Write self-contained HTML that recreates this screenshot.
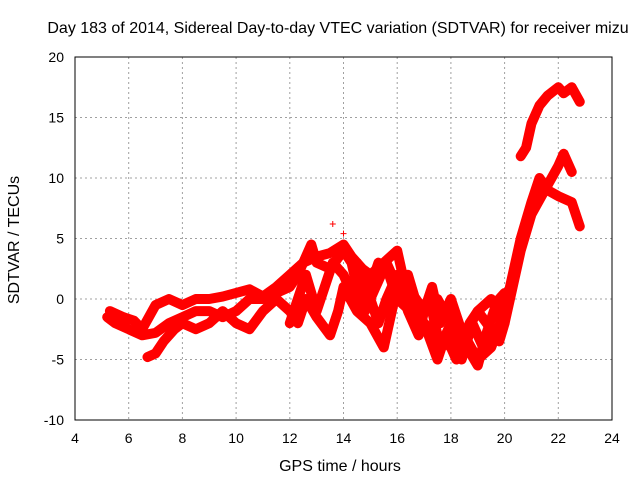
<!DOCTYPE html>
<html><head><meta charset="utf-8"><style>
body{margin:0;background:#fff;font-family:"Liberation Sans",sans-serif}
svg text{font-family:"Liberation Sans",sans-serif;font-size:14px;fill:#000}
</style></head><body>
<svg id="chart" width="640" height="480" viewBox="0 0 640 480">
<text x="338" y="33" text-anchor="middle" style="font-size:16px">Day 183 of 2014, Sidereal Day-to-day VTEC variation (SDTVAR) for receiver mizu</text>
<g id="grid"></g>
<g id="axes"></g>
<g id="series"></g>
<text x="340" y="471" text-anchor="middle" style="font-size:16px">GPS time / hours</text>
<text x="0" y="0" text-anchor="middle" transform="translate(19,240) rotate(-90)" style="font-size:16px">SDTVAR / TECUs</text>
</svg>
<script>
const xTicks=[4,6,8,10,12,14,16,18,20,22,24];
const yTicks=[-10,-5,0,5,10,15,20];
const seriesA=[[5.2,-1.5],[5.5,-2],[6,-2.5],[6.5,-3],[7,-2.8],[7.5,-2],[8,-1.5],[8.5,-1],[9,-1],[9.5,-1.5],[10,-1],[10.5,0],[11,0],[11.5,0.5],[12,1],[12.3,2],[12.6,3.5],[12.8,4.5],[13,3],[13.5,2.5],[14,4],[14.3,3],[14.5,1],[14.8,-1],[15,1],[15.3,3],[15.7,2],[16,0],[16.5,-1],[17,-2],[17.5,-3],[18,-4],[18.5,-3],[19,-5],[19.5,-4],[20,-1],[20.3,2],[20.6,5],[21,8],[21.3,10],[21.6,9],[22,8.5],[22.5,8],[22.8,6]];
const seriesB=[[5.3,-1],[5.8,-1.5],[6.2,-1.8],[6.5,-2.5],[7,-0.5],[7.5,0],[8,-0.5],[8.5,0],[9,0],[9.5,0.2],[10,0.5],[10.5,0.8],[11,0.2],[11.5,1],[12,2],[12.5,3],[13,3.5],[13.5,3.8],[14,4.5],[14.3,3.5],[14.7,2.5],[15,2],[15.5,3],[16,4],[16.3,1],[16.7,0],[17,-1],[17.5,0],[18,-2],[18.3,-4],[18.7,-2],[19,-1],[19.5,-2.5],[19.8,-3.5],[20,-2],[20.3,1],[20.6,4],[21,7],[21.5,9],[22,11],[22.2,12],[22.5,10.5]];
const seriesC=[[6.7,-4.8],[7,-4.5],[7.3,-3.5],[7.7,-2.5],[8,-2],[8.5,-2.5],[9,-2],[9.5,-1],[10,-2],[10.5,-2.5],[11,-1],[11.5,0],[12,-1],[12.3,-2],[12.6,0],[13,-1.5],[13.5,-3],[13.8,-1],[14,1],[14.5,-1],[15,-2],[15.5,-4],[15.8,-1],[16,1],[16.5,-0.5],[17,-2],[17.5,-5],[17.8,-3],[18.2,-5],[18.5,-3],[19,-1],[19.5,0],[19.8,-1.5],[19.9,-2.5]];
const seriesD=[[20.6,11.8],[20.8,12.5],[21,14.5],[21.3,16],[21.6,16.8],[22,17.5],[22.2,17],[22.5,17.5],[22.8,16.3]];
const seriesE=[[14.5,3],[15,0],[15.3,-2],[15.6,0],[16,2],[16.4,-1],[16.8,-3],[17,-1],[17.3,1],[17.6,-2],[18,0],[18.3,-2],[18.6,-4],[19,-5.5],[19.3,-3],[19.6,-1],[19.8,0],[20,0.5]];
const seriesF=[[12,-2],[12.3,0],[12.6,2],[13,-1],[13.3,1],[13.6,3],[14,2],[14.4,0],[14.8,-1],[15.2,1],[15.6,3],[16,1],[16.4,2],[16.8,-1],[17.2,0],[17.6,-4],[18,-2],[18.4,-5],[18.8,-2],[19.2,-4],[19.6,-3],[20,-2]];
const outliers=[[13.6,6.2],[14,5.4]];
const NS="http://www.w3.org/2000/svg";
const X=v=>75+(v-4)*26.85, Y=v=>57+(20-v)*12.1;
function mk(t,a,p){const e=document.createElementNS(NS,t);for(const k in a)e.setAttribute(k,a[k]);p.appendChild(e);return e;}
const grid=document.getElementById('grid'),axes=document.getElementById('axes'),ser=document.getElementById('series');
xTicks.forEach(t=>{
 if(t>4&&t<24){const l=mk('line',{x1:X(t),x2:X(t),y1:57,y2:420,stroke:'#a0a0a0','stroke-dasharray':'2,3'},grid);}
 const tx=mk('text',{x:X(t),y:443,'text-anchor':'middle'},axes);tx.textContent=t;
 
});
yTicks.forEach(t=>{
 if(t>-10&&t<20){const l=mk('line',{x1:75,x2:612,y1:Y(t),y2:Y(t),stroke:'#a0a0a0','stroke-dasharray':'2,3'},grid);}
 const tx=mk('text',{x:64,y:Y(t)+5,'text-anchor':'end'},axes);tx.textContent=t;
 
});
const fr=mk('rect',{x:75,y:57,width:537,height:363,fill:'none',stroke:'#000'},axes);

[seriesA,seriesB,seriesC,seriesD,seriesE,seriesF].forEach((s,i)=>{
 const p=mk('polyline',{points:s.map(d=>X(d[0])+','+Y(d[1])).join(' '),fill:'none',stroke:'#ff0000','stroke-width':10,'stroke-linejoin':'round','stroke-linecap':'round'},ser);
 
});
outliers.forEach(d=>{
 const p=mk('path',{d:`M${X(d[0])-3},${Y(d[1])}h6M${X(d[0])},${Y(d[1])-3}v6`,stroke:'#ff0000','stroke-width':1},ser);
 
});
</script>
</body></html>
